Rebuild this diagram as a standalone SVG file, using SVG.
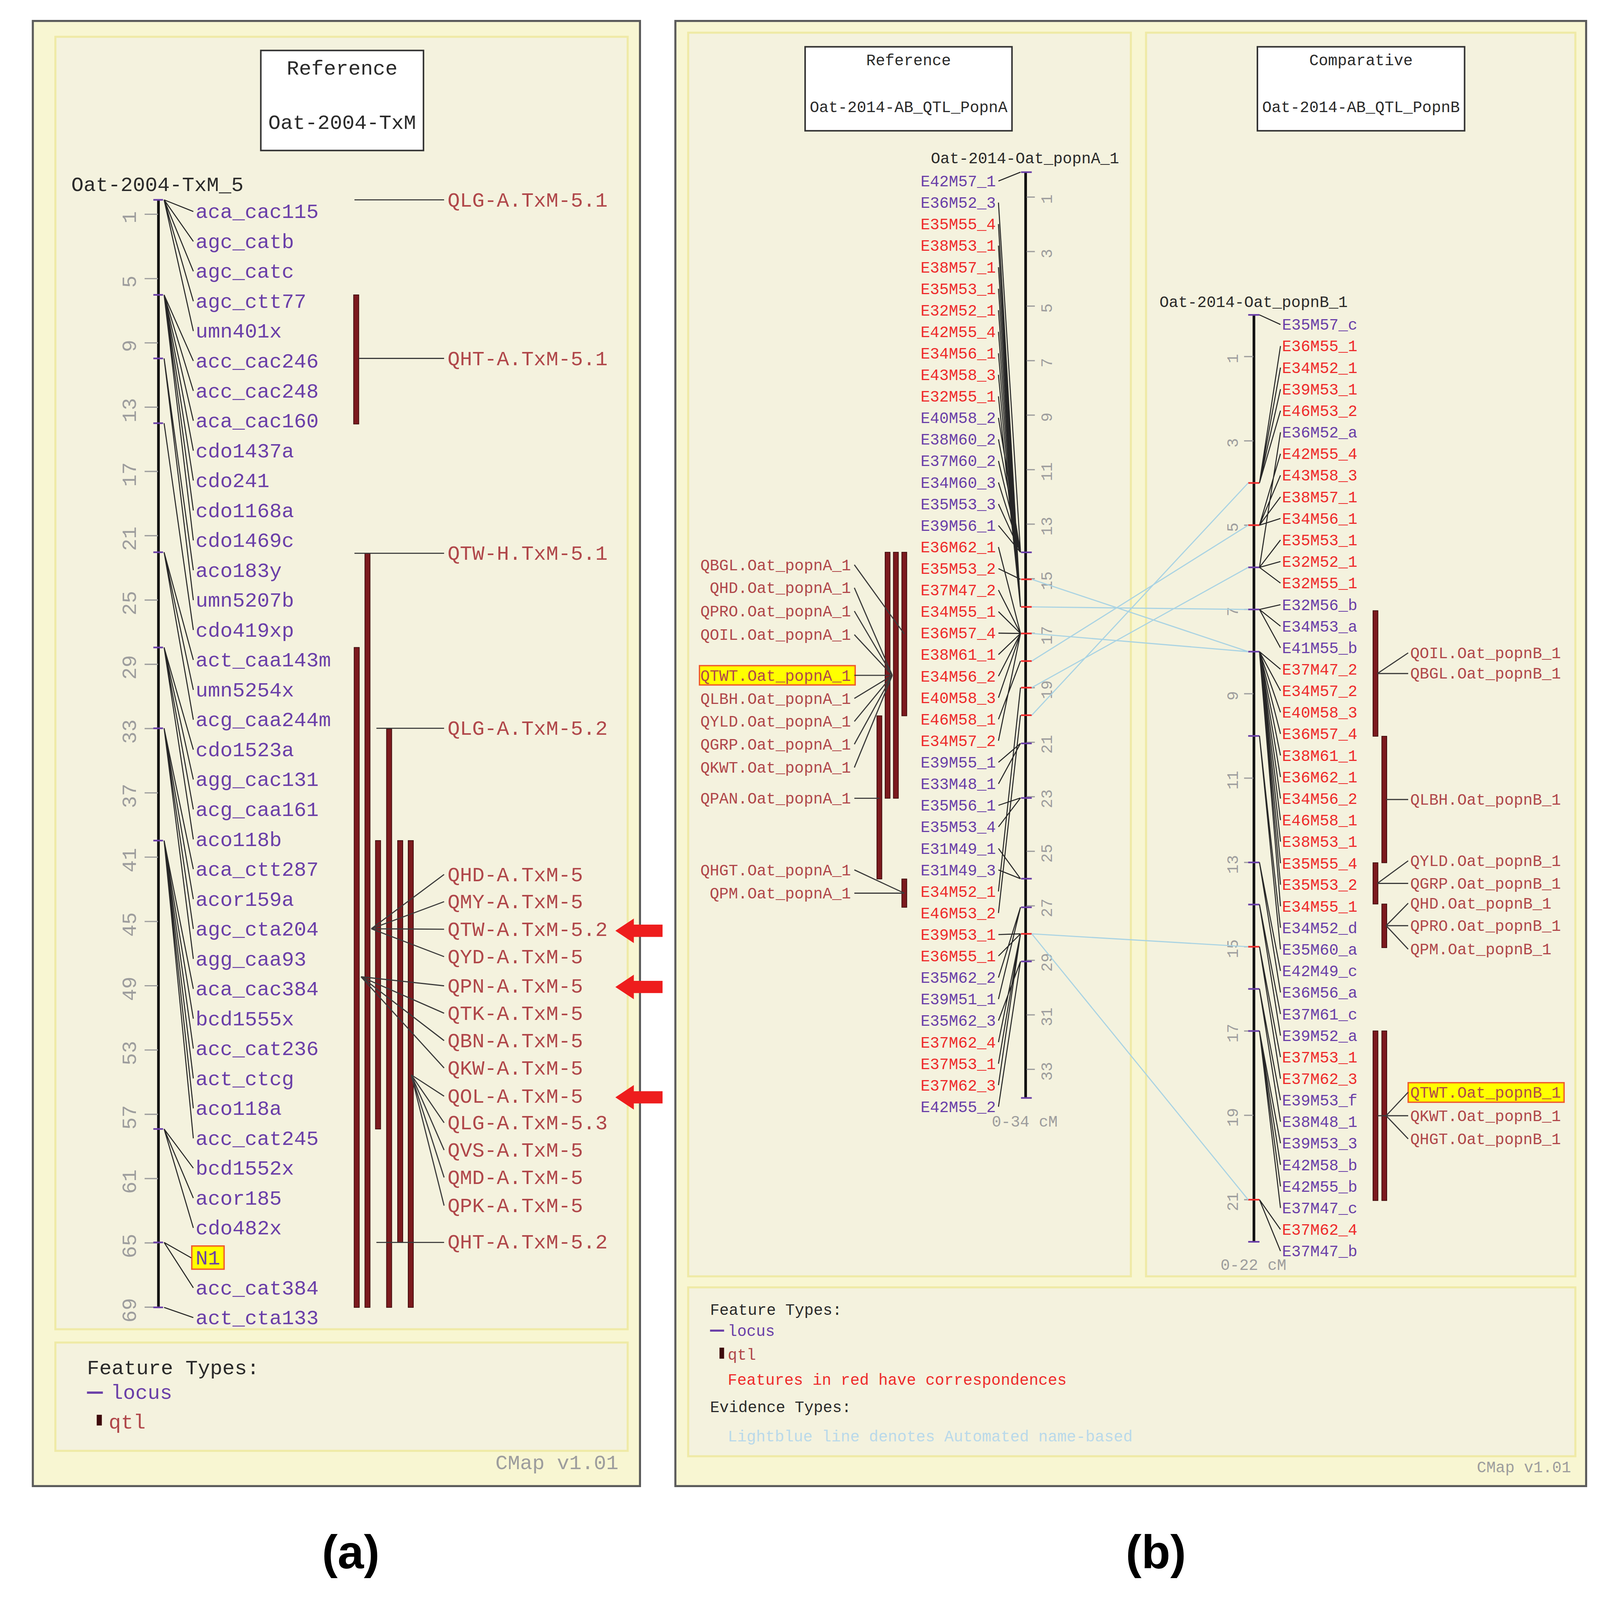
<svg xmlns="http://www.w3.org/2000/svg" width="4288" height="4304" viewBox="0 0 4288 4304">
<style>
text{font-family:"Liberation Mono","DejaVu Sans Mono",monospace}
.s20{font-size:20px}
.s15{font-size:15.3px}
.pu{fill:#6a3fa8}
.rd{fill:#ee2b2b}
.qt{fill:#b0474a}
.dk{fill:#2a2a2a}
.gy{fill:#9d9d9d}
.lb{fill:#b9d9ea}
.ld{stroke:#262626;stroke-width:1;fill:none}
.ql{stroke:#3a3a3a;stroke-width:1.1;fill:none}
.co{stroke:#a9d3e3;stroke-width:1.1;fill:none}
.bar{fill:#7c1a1e;stroke:#3e0b0c;stroke-width:0.7}
.tk{stroke:#9d9d9d;stroke-width:1.2}
.chr{stroke:#111;stroke-width:2.6}
.fp{stroke:#6a3fa8;stroke-width:1.6}
.fr{stroke:#ee2b2b;stroke-width:1.6}
.pnl{fill:#f4f2de;stroke:#efeaa6;stroke-width:2}
.frm{fill:#f8f6d2;stroke:#5a5a5a;stroke-width:2}
.box{fill:#ffffff;stroke:#333;stroke-width:1.5}
.hl{fill:#ffff00;stroke:#f0582a;stroke-width:1.3}
.arr{fill:#ee1d1d}
.cap{font-family:"Liberation Sans","Open Sans",sans-serif;font-weight:bold;font-size:46px;fill:#000}
</style>
<rect width="4288" height="4304" fill="#ffffff"/>
<g transform="scale(2.6256,2.6156)">

<!-- ========== PANEL A ========== -->
<g id="panel-a">
<rect class="frm" x="32" y="20.5" width="592" height="1434"/>
<rect class="pnl" x="54" y="36" width="558" height="1265"/>
<rect class="pnl" x="54" y="1314" width="558" height="106"/>
<g id="title-a">
<rect class="box" x="254.3" y="49.4" width="158.6" height="97.9"/>
<text class="s20 dk" x="333.6" y="73" text-anchor="middle">Reference</text>
<text class="s20 dk" x="333.6" y="126" text-anchor="middle">Oat-2004-TxM</text>
</g>
<text class="s20 dk" x="69.5" y="187">Oat-2004-TxM_5</text>
<text class="s20 gy" x="483" y="1438">CMap v1.01</text>
</g>

<g id="map-a-chromosome">
<line class="chr" x1="154.5" y1="195.6" x2="154.5" y2="1279.6"/>
<g class="tk">
<line x1="141" y1="209.7" x2="154" y2="209.7"/><line x1="141" y1="272.7" x2="154" y2="272.7"/>
<line x1="141" y1="335.6" x2="154" y2="335.6"/><line x1="141" y1="398.5" x2="154" y2="398.5"/>
<line x1="141" y1="461.4" x2="154" y2="461.4"/><line x1="141" y1="524.3" x2="154" y2="524.3"/>
<line x1="141" y1="587.3" x2="154" y2="587.3"/><line x1="141" y1="650.2" x2="154" y2="650.2"/>
<line x1="141" y1="713.1" x2="154" y2="713.1"/><line x1="141" y1="776" x2="154" y2="776"/>
<line x1="141" y1="838.9" x2="154" y2="838.9"/><line x1="141" y1="901.9" x2="154" y2="901.9"/>
<line x1="141" y1="964.8" x2="154" y2="964.8"/><line x1="141" y1="1027.7" x2="154" y2="1027.7"/>
<line x1="141" y1="1090.6" x2="154" y2="1090.6"/><line x1="141" y1="1153.5" x2="154" y2="1153.5"/>
<line x1="141" y1="1216.5" x2="154" y2="1216.5"/><line x1="141" y1="1279.4" x2="154" y2="1279.4"/>
</g>
<g class="s20 gy" text-anchor="middle">
<text transform="translate(132.5,212.7) rotate(-90)">1</text>
<text transform="translate(132.5,275.7) rotate(-90)">5</text>
<text transform="translate(132.5,338.6) rotate(-90)">9</text>
<text transform="translate(132.5,401.5) rotate(-90)">13</text>
<text transform="translate(132.5,464.4) rotate(-90)">17</text>
<text transform="translate(132.5,527.3) rotate(-90)">21</text>
<text transform="translate(132.5,590.3) rotate(-90)">25</text>
<text transform="translate(132.5,653.2) rotate(-90)">29</text>
<text transform="translate(132.5,716.1) rotate(-90)">33</text>
<text transform="translate(132.5,779) rotate(-90)">37</text>
<text transform="translate(132.5,841.9) rotate(-90)">41</text>
<text transform="translate(132.5,904.9) rotate(-90)">45</text>
<text transform="translate(132.5,967.8) rotate(-90)">49</text>
<text transform="translate(132.5,1030.7) rotate(-90)">53</text>
<text transform="translate(132.5,1093.6) rotate(-90)">57</text>
<text transform="translate(132.5,1156.5) rotate(-90)">61</text>
<text transform="translate(132.5,1219.5) rotate(-90)">65</text>
<text transform="translate(132.5,1282.4) rotate(-90)">69</text>
</g>
<g class="fp">
<line x1="149.5" y1="195.6" x2="159" y2="195.6"/><line x1="149.5" y1="288.6" x2="159" y2="288.6"/>
<line x1="149.5" y1="350.8" x2="159" y2="350.8"/><line x1="149.5" y1="414.2" x2="159" y2="414.2"/>
<line x1="149.5" y1="540.5" x2="159" y2="540.5"/><line x1="149.5" y1="633.7" x2="159" y2="633.7"/>
<line x1="149.5" y1="712.8" x2="159" y2="712.8"/><line x1="149.5" y1="822.7" x2="159" y2="822.7"/>
<line x1="149.5" y1="1105" x2="159" y2="1105"/><line x1="149.5" y1="1216" x2="159" y2="1216"/>
<line x1="149.5" y1="1279.6" x2="159" y2="1279.6"/>
</g>
</g>

<g id="map-a-markers" class="s20 pu">
<text x="190.7" y="213.5">aca_cac115</text>
<text x="190.7" y="242.8">agc_catb</text>
<text x="190.7" y="272">agc_catc</text>
<text x="190.7" y="301.3">agc_ctt77</text>
<text x="190.7" y="330.5">umn401x</text>
<text x="190.7" y="359.8">acc_cac246</text>
<text x="190.7" y="389.1">acc_cac248</text>
<text x="190.7" y="418.3">aca_cac160</text>
<text x="190.7" y="447.6">cdo1437a</text>
<text x="190.7" y="476.8">cdo241</text>
<text x="190.7" y="506.1">cdo1168a</text>
<text x="190.7" y="535.4">cdo1469c</text>
<text x="190.7" y="564.6">aco183y</text>
<text x="190.7" y="593.9">umn5207b</text>
<text x="190.7" y="623.1">cdo419xp</text>
<text x="190.7" y="652.4">act_caa143m</text>
<text x="190.7" y="681.7">umn5254x</text>
<text x="190.7" y="710.9">acg_caa244m</text>
<text x="190.7" y="740.2">cdo1523a</text>
<text x="190.7" y="769.4">agg_cac131</text>
<text x="190.7" y="798.7">acg_caa161</text>
<text x="190.7" y="828">aco118b</text>
<text x="190.7" y="857.2">aca_ctt287</text>
<text x="190.7" y="886.5">acor159a</text>
<text x="190.7" y="915.7">agc_cta204</text>
<text x="190.7" y="945">agg_caa93</text>
<text x="190.7" y="974.3">aca_cac384</text>
<text x="190.7" y="1003.5">bcd1555x</text>
<text x="190.7" y="1032.8">acc_cat236</text>
<text x="190.7" y="1062">act_ctcg</text>
<text x="190.7" y="1091.3">aco118a</text>
<text x="190.7" y="1120.6">acc_cat245</text>
<text x="190.7" y="1149.8">bcd1552x</text>
<text x="190.7" y="1179.1">acor185</text>
<text x="190.7" y="1208.3">cdo482x</text>
<g id="n1-node"><rect class="hl" x="187" y="1219.5" width="31.5" height="22.7"/>
<text x="190.7" y="1237.6">N1</text></g>
<text x="190.7" y="1266.9">acc_cat384</text>
<text x="190.7" y="1296.1">act_cta133</text>
</g>

<g id="map-a-qtl-bars" class="bar">
<rect x="344.8" y="288.6" width="5" height="126.4"/>
<rect x="355.8" y="541.5" width="5" height="738.1"/>
<rect x="345.3" y="633.7" width="5" height="645.9"/>
<rect x="376.9" y="713.5" width="5" height="566.1"/>
<rect x="366.1" y="822.7" width="5" height="282.3"/>
<rect x="387.7" y="822.7" width="5" height="393.3"/>
<rect x="398" y="822.7" width="5" height="456.9"/>
</g>

<g id="map-a-qtl-labels" class="s20 qt">
<text x="436.4" y="202.1">QLG-A.TxM-5.1</text>
<text x="436.4" y="357.3">QHT-A.TxM-5.1</text>
<text x="436.4" y="548">QTW-H.TxM-5.1</text>
<text x="436.4" y="719.3">QLG-A.TxM-5.2</text>
<text x="436.4" y="862.4">QHD-A.TxM-5</text>
<text x="436.4" y="889">QMY-A.TxM-5</text>
<text x="436.4" y="916">QTW-A.TxM-5.2</text>
<text x="436.4" y="942.8">QYD-A.TxM-5</text>
<text x="436.4" y="971.4">QPN-A.TxM-5</text>
<text x="436.4" y="998.2">QTK-A.TxM-5</text>
<text x="436.4" y="1025">QBN-A.TxM-5</text>
<text x="436.4" y="1051.8">QKW-A.TxM-5</text>
<text x="436.4" y="1079.4">QOL-A.TxM-5</text>
<text x="436.4" y="1105.4">QLG-A.TxM-5.3</text>
<text x="436.4" y="1132.1">QVS-A.TxM-5</text>
<text x="436.4" y="1158.9">QMD-A.TxM-5</text>
<text x="436.4" y="1186.5">QPK-A.TxM-5</text>
<text x="436.4" y="1222">QHT-A.TxM-5.2</text>
</g>

<g id="red-arrows" class="arr">
<polygon points="600,911 618,899 618,905 646,905 646,917 618,917 618,923"/>
<polygon points="600,966 618,954 618,960 646,960 646,972 618,972 618,978"/>
<polygon points="600,1074 618,1062 618,1068 646,1068 646,1080 618,1080 618,1086"/>
</g>

<g id="legend-a">
<text class="s20 dk" x="84.8" y="1345">Feature Types:</text>
<line x1="84.8" y1="1363" x2="100.3" y2="1363" stroke="#6a3fa8" stroke-width="2.2"/>
<text class="s20 pu" x="108" y="1369">locus</text>
<rect x="94.3" y="1384.7" width="5" height="10.5" fill="#3e0b0c"/>
<text class="s20 qt" x="106" y="1398">qtl</text>
</g>

<!-- ========== PANEL B ========== -->
<g id="panel-b">
<rect class="frm" x="658.5" y="20.5" width="888" height="1434"/>
<rect class="pnl" x="671" y="32" width="431.6" height="1217.2"/>
<rect class="pnl" x="1117.4" y="32" width="418.6" height="1217.2"/>
<rect class="pnl" x="671" y="1260" width="865" height="165.3"/>
<g id="title-b-ref">
<rect class="box" x="785" y="45.8" width="201.7" height="82.2"/>
<text class="s15 dk" x="885.9" y="64" text-anchor="middle">Reference</text>
<text class="s15 dk" x="885.9" y="109.8" text-anchor="middle">Oat-2014-AB_QTL_PopnA</text>
</g>
<g id="title-b-comp">
<rect class="box" x="1226" y="45.8" width="202" height="82.2"/>
<text class="s15 dk" x="1327" y="64" text-anchor="middle">Comparative</text>
<text class="s15 dk" x="1327" y="109.8" text-anchor="middle">Oat-2014-AB_QTL_PopnB</text>
</g>
<text class="s15 dk" x="907.6" y="159.7">Oat-2014-Oat_popnA_1</text>
<text class="s15 dk" x="1130.5" y="300.4">Oat-2014-Oat_popnB_1</text>
<text class="s15 gy" x="967" y="1102.6">0-34 cM</text>
<text class="s15 gy" x="1190" y="1243">0-22 cM</text>
<text class="s15 gy" x="1440" y="1441">CMap v1.01</text>
</g>

<g id="map-b-ref-chromosome">
<line class="chr" x1="1000" y1="168.5" x2="1000" y2="1074.6"/>
<g class="tk">
<line x1="1001" y1="192.9" x2="1009" y2="192.9"/><line x1="1001" y1="246.2" x2="1009" y2="246.2"/>
<line x1="1001" y1="299.6" x2="1009" y2="299.6"/><line x1="1001" y1="353" x2="1009" y2="353"/>
<line x1="1001" y1="406.3" x2="1009" y2="406.3"/><line x1="1001" y1="459.7" x2="1009" y2="459.7"/>
<line x1="1001" y1="513" x2="1009" y2="513"/><line x1="1001" y1="566.4" x2="1009" y2="566.4"/>
<line x1="1001" y1="619.8" x2="1009" y2="619.8"/><line x1="1001" y1="673.1" x2="1009" y2="673.1"/>
<line x1="1001" y1="726.5" x2="1009" y2="726.5"/><line x1="1001" y1="779.8" x2="1009" y2="779.8"/>
<line x1="1001" y1="833.2" x2="1009" y2="833.2"/><line x1="1001" y1="886.6" x2="1009" y2="886.6"/>
<line x1="1001" y1="939.9" x2="1009" y2="939.9"/><line x1="1001" y1="993.3" x2="1009" y2="993.3"/>
<line x1="1001" y1="1046.6" x2="1009" y2="1046.6"/>
</g>
<g class="s15 gy" text-anchor="middle">
<text transform="translate(1025.8,194.9) rotate(-90)">1</text>
<text transform="translate(1025.8,248.2) rotate(-90)">3</text>
<text transform="translate(1025.8,301.6) rotate(-90)">5</text>
<text transform="translate(1025.8,355) rotate(-90)">7</text>
<text transform="translate(1025.8,408.3) rotate(-90)">9</text>
<text transform="translate(1025.8,461.7) rotate(-90)">11</text>
<text transform="translate(1025.8,515) rotate(-90)">13</text>
<text transform="translate(1025.8,568.4) rotate(-90)">15</text>
<text transform="translate(1025.8,621.8) rotate(-90)">17</text>
<text transform="translate(1025.8,675.1) rotate(-90)">19</text>
<text transform="translate(1025.8,728.5) rotate(-90)">21</text>
<text transform="translate(1025.8,781.8) rotate(-90)">23</text>
<text transform="translate(1025.8,835.2) rotate(-90)">25</text>
<text transform="translate(1025.8,888.6) rotate(-90)">27</text>
<text transform="translate(1025.8,941.9) rotate(-90)">29</text>
<text transform="translate(1025.8,995.3) rotate(-90)">31</text>
<text transform="translate(1025.8,1048.6) rotate(-90)">33</text>
</g>
<g class="fp">
<line x1="995.5" y1="168.5" x2="1006" y2="168.5"/><line x1="995.5" y1="540.6" x2="1006" y2="540.6"/>
<line x1="995.5" y1="727.6" x2="1006" y2="727.6"/><line x1="995.5" y1="781" x2="1006" y2="781"/>
<line x1="995.5" y1="860" x2="1006" y2="860"/><line x1="995.5" y1="888" x2="1006" y2="888"/>
<line x1="995.5" y1="941" x2="1006" y2="941"/><line x1="995.5" y1="1074.6" x2="1006" y2="1074.6"/>
</g>
<g class="fr">
<line x1="995.5" y1="567" x2="1006" y2="567"/><line x1="995.5" y1="594" x2="1006" y2="594"/>
<line x1="995.5" y1="620" x2="1006" y2="620"/><line x1="995.5" y1="647" x2="1006" y2="647"/>
<line x1="995.5" y1="673" x2="1006" y2="673"/><line x1="995.5" y1="700" x2="1006" y2="700"/>
<line x1="995.5" y1="914" x2="1006" y2="914"/>
</g>
</g>

<g id="map-b-ref-markers" class="s15" text-anchor="end">
<text class="pu" x="971" y="182.4">E42M57_1</text>
<text class="pu" x="971" y="203.5">E36M52_3</text>
<text class="rd" x="971" y="224.5">E35M55_4</text>
<text class="rd" x="971" y="245.6">E38M53_1</text>
<text class="rd" x="971" y="266.7">E38M57_1</text>
<text class="rd" x="971" y="287.8">E35M53_1</text>
<text class="rd" x="971" y="308.8">E32M52_1</text>
<text class="rd" x="971" y="329.9">E42M55_4</text>
<text class="rd" x="971" y="351">E34M56_1</text>
<text class="rd" x="971" y="372">E43M58_3</text>
<text class="rd" x="971" y="393.1">E32M55_1</text>
<text class="pu" x="971" y="414.2">E40M58_2</text>
<text class="pu" x="971" y="435.2">E38M60_2</text>
<text class="pu" x="971" y="456.3">E37M60_2</text>
<text class="pu" x="971" y="477.4">E34M60_3</text>
<text class="pu" x="971" y="498.5">E35M53_3</text>
<text class="pu" x="971" y="519.5">E39M56_1</text>
<text class="rd" x="971" y="540.6">E36M62_1</text>
<text class="rd" x="971" y="561.7">E35M53_2</text>
<text class="rd" x="971" y="582.7">E37M47_2</text>
<text class="rd" x="971" y="603.8">E34M55_1</text>
<text class="rd" x="971" y="624.9">E36M57_4</text>
<text class="rd" x="971" y="645.9">E38M61_1</text>
<text class="rd" x="971" y="667">E34M56_2</text>
<text class="rd" x="971" y="688.1">E40M58_3</text>
<text class="rd" x="971" y="709.2">E46M58_1</text>
<text class="rd" x="971" y="730.2">E34M57_2</text>
<text class="pu" x="971" y="751.3">E39M55_1</text>
<text class="pu" x="971" y="772.4">E33M48_1</text>
<text class="pu" x="971" y="793.4">E35M56_1</text>
<text class="pu" x="971" y="814.5">E35M53_4</text>
<text class="pu" x="971" y="835.6">E31M49_1</text>
<text class="pu" x="971" y="856.6">E31M49_3</text>
<text class="rd" x="971" y="877.7">E34M52_1</text>
<text class="rd" x="971" y="898.8">E46M53_2</text>
<text class="rd" x="971" y="919.9">E39M53_1</text>
<text class="rd" x="971" y="940.9">E36M55_1</text>
<text class="pu" x="971" y="962">E35M62_2</text>
<text class="pu" x="971" y="983.1">E39M51_1</text>
<text class="pu" x="971" y="1004.1">E35M62_3</text>
<text class="rd" x="971" y="1025.2">E37M62_4</text>
<text class="rd" x="971" y="1046.3">E37M53_1</text>
<text class="rd" x="971" y="1067.3">E37M62_3</text>
<text class="pu" x="971" y="1088.4">E42M55_2</text>
</g>

<g id="map-b-ref-qtl">
<g class="bar">
<rect x="863" y="540.5" width="4.8" height="240.8"/>
<rect x="871.1" y="540.5" width="4.8" height="240.8"/>
<rect x="879.3" y="540.5" width="4.8" height="160.1"/>
<rect x="855" y="700.6" width="4.8" height="159.7"/>
<rect x="879.3" y="860.3" width="4.8" height="27.7"/>
</g>
<rect class="hl" x="682" y="651.5" width="151.8" height="18.9"/>
<g class="s15 qt" text-anchor="end">
<text x="829.7" y="558">QBGL.Oat_popnA_1</text>
<text x="829.7" y="580.5">QHD.Oat_popnA_1</text>
<text x="829.7" y="603.3">QPRO.Oat_popnA_1</text>
<text x="829.7" y="626.4">QOIL.Oat_popnA_1</text>
<text x="829.7" y="666.2">QTWT.Oat_popnA_1</text>
<text x="829.7" y="688.8">QLBH.Oat_popnA_1</text>
<text x="829.7" y="711.3">QYLD.Oat_popnA_1</text>
<text x="829.7" y="733.6">QGRP.Oat_popnA_1</text>
<text x="829.7" y="756.4">QKWT.Oat_popnA_1</text>
<text x="829.7" y="786.5">QPAN.Oat_popnA_1</text>
<text x="829.7" y="856.6">QHGT.Oat_popnA_1</text>
<text x="829.7" y="879.4">QPM.Oat_popnA_1</text>
</g>
</g>

<g id="map-b-comp-chromosome">
<line class="chr" x1="1222.6" y1="308.2" x2="1222.6" y2="1215.4"/>
<g class="tk">
<line x1="1213" y1="349" x2="1222" y2="349"/><line x1="1213" y1="431.5" x2="1222" y2="431.5"/>
<line x1="1213" y1="514" x2="1222" y2="514"/><line x1="1213" y1="596.5" x2="1222" y2="596.5"/>
<line x1="1213" y1="679" x2="1222" y2="679"/><line x1="1213" y1="761.6" x2="1222" y2="761.6"/>
<line x1="1213" y1="844.1" x2="1222" y2="844.1"/><line x1="1213" y1="926.6" x2="1222" y2="926.6"/>
<line x1="1213" y1="1009.1" x2="1222" y2="1009.1"/><line x1="1213" y1="1091.6" x2="1222" y2="1091.6"/>
<line x1="1213" y1="1174.2" x2="1222" y2="1174.2"/>
</g>
<g class="s15 gy" text-anchor="middle">
<text transform="translate(1206.9,351) rotate(-90)">1</text>
<text transform="translate(1206.9,433.5) rotate(-90)">3</text>
<text transform="translate(1206.9,516) rotate(-90)">5</text>
<text transform="translate(1206.9,598.5) rotate(-90)">7</text>
<text transform="translate(1206.9,681) rotate(-90)">9</text>
<text transform="translate(1206.9,763.6) rotate(-90)">11</text>
<text transform="translate(1206.9,846.1) rotate(-90)">13</text>
<text transform="translate(1206.9,928.6) rotate(-90)">15</text>
<text transform="translate(1206.9,1011.1) rotate(-90)">17</text>
<text transform="translate(1206.9,1093.6) rotate(-90)">19</text>
<text transform="translate(1206.9,1176.2) rotate(-90)">21</text>
</g>
<g class="fp">
<line x1="1217" y1="308.2" x2="1228" y2="308.2"/><line x1="1217" y1="555.3" x2="1228" y2="555.3"/>
<line x1="1217" y1="596.5" x2="1228" y2="596.5"/><line x1="1217" y1="637.8" x2="1228" y2="637.8"/>
<line x1="1217" y1="720.3" x2="1228" y2="720.3"/><line x1="1217" y1="844.1" x2="1228" y2="844.1"/>
<line x1="1217" y1="885.3" x2="1228" y2="885.3"/><line x1="1217" y1="967.9" x2="1228" y2="967.9"/>
<line x1="1217" y1="1009.1" x2="1228" y2="1009.1"/><line x1="1217" y1="1215.4" x2="1228" y2="1215.4"/>
</g>
<g class="fr">
<line x1="1217" y1="472.7" x2="1228" y2="472.7"/><line x1="1217" y1="514" x2="1228" y2="514"/>
<line x1="1217" y1="926.6" x2="1228" y2="926.6"/><line x1="1217" y1="1174.2" x2="1228" y2="1174.2"/>
</g>
</g>

<g id="map-b-comp-markers" class="s15">
<text class="pu" x="1250" y="322.8">E35M57_c</text>
<text class="rd" x="1250" y="343.9">E36M55_1</text>
<text class="rd" x="1250" y="365">E34M52_1</text>
<text class="rd" x="1250" y="386.1">E39M53_1</text>
<text class="rd" x="1250" y="407.2">E46M53_2</text>
<text class="pu" x="1250" y="428.3">E36M52_a</text>
<text class="rd" x="1250" y="449.3">E42M55_4</text>
<text class="rd" x="1250" y="470.4">E43M58_3</text>
<text class="rd" x="1250" y="491.5">E38M57_1</text>
<text class="rd" x="1250" y="512.6">E34M56_1</text>
<text class="rd" x="1250" y="533.7">E35M53_1</text>
<text class="rd" x="1250" y="554.8">E32M52_1</text>
<text class="rd" x="1250" y="575.9">E32M55_1</text>
<text class="pu" x="1250" y="597">E32M56_b</text>
<text class="pu" x="1250" y="618.1">E34M53_a</text>
<text class="pu" x="1250" y="639.2">E41M55_b</text>
<text class="rd" x="1250" y="660.2">E37M47_2</text>
<text class="rd" x="1250" y="681.3">E34M57_2</text>
<text class="rd" x="1250" y="702.4">E40M58_3</text>
<text class="rd" x="1250" y="723.5">E36M57_4</text>
<text class="rd" x="1250" y="744.6">E38M61_1</text>
<text class="rd" x="1250" y="765.7">E36M62_1</text>
<text class="rd" x="1250" y="786.8">E34M56_2</text>
<text class="rd" x="1250" y="807.9">E46M58_1</text>
<text class="rd" x="1250" y="829">E38M53_1</text>
<text class="rd" x="1250" y="850.1">E35M55_4</text>
<text class="rd" x="1250" y="871.1">E35M53_2</text>
<text class="rd" x="1250" y="892.2">E34M55_1</text>
<text class="pu" x="1250" y="913.3">E34M52_d</text>
<text class="pu" x="1250" y="934.4">E35M60_a</text>
<text class="pu" x="1250" y="955.5">E42M49_c</text>
<text class="pu" x="1250" y="976.6">E36M56_a</text>
<text class="pu" x="1250" y="997.7">E37M61_c</text>
<text class="pu" x="1250" y="1018.8">E39M52_a</text>
<text class="rd" x="1250" y="1039.9">E37M53_1</text>
<text class="rd" x="1250" y="1061">E37M62_3</text>
<text class="pu" x="1250" y="1082">E39M53_f</text>
<text class="pu" x="1250" y="1103.1">E38M48_1</text>
<text class="pu" x="1250" y="1124.2">E39M53_3</text>
<text class="pu" x="1250" y="1145.3">E42M58_b</text>
<text class="pu" x="1250" y="1166.4">E42M55_b</text>
<text class="pu" x="1250" y="1187.5">E37M47_c</text>
<text class="rd" x="1250" y="1208.6">E37M62_4</text>
<text class="pu" x="1250" y="1229.7">E37M47_b</text>
</g>

<g id="map-b-comp-qtl">
<g class="bar">
<rect x="1338.7" y="597.7" width="4.8" height="122.9"/>
<rect x="1347.3" y="720.6" width="4.8" height="123.8"/>
<rect x="1338.7" y="844.4" width="4.8" height="40.4"/>
<rect x="1347.3" y="884.8" width="4.8" height="42.7"/>
<rect x="1338.7" y="1009" width="4.8" height="166"/>
<rect x="1347.3" y="1009" width="4.8" height="166"/>
</g>
<rect class="hl" x="1373" y="1059.7" width="152" height="19.1"/>
<g class="s15 qt">
<text x="1375" y="644.2">QOIL.Oat_popnB_1</text>
<text x="1375" y="664">QBGL.Oat_popnB_1</text>
<text x="1375" y="787.6">QLBH.Oat_popnB_1</text>
<text x="1375" y="847.7">QYLD.Oat_popnB_1</text>
<text x="1375" y="869.9">QGRP.Oat_popnB_1</text>
<text x="1375" y="889.2">QHD.Oat_popnB_1</text>
<text x="1375" y="911.2">QPRO.Oat_popnB_1</text>
<text x="1375" y="934.2">QPM.Oat_popnB_1</text>
<text x="1375" y="1074.2">QTWT.Oat_popnB_1</text>
<text x="1375" y="1097.2">QKWT.Oat_popnB_1</text>
<text x="1375" y="1119.9">QHGT.Oat_popnB_1</text>
</g>
</g>

<g id="legend-b">
<text class="s15 dk" x="692.3" y="1287">Feature Types:</text>
<line x1="692.3" y1="1302.3" x2="706" y2="1302.3" stroke="#6a3fa8" stroke-width="2"/>
<text class="s15 pu" x="709.6" y="1307.5">locus</text>
<rect x="701.5" y="1319" width="4.5" height="10.8" fill="#3e0b0c"/>
<text class="s15 qt" x="709.6" y="1331">qtl</text>
<text class="s15 rd" x="709.6" y="1355.2">Features in red have correspondences</text>
<text class="s15 dk" x="692.3" y="1382.2">Evidence Types:</text>
<text class="s15 lb" x="709.6" y="1410.8">Lightblue line denotes Automated name-based</text>
</g>

<!-- ========== CONNECTORS ========== -->
<g id="connectors">
<path class="ld" d="M160 195.6L188.5 207M160 195.6L188.5 236.3M160 195.6L188.5 265.5M160 195.6L188.5 294.8M160 195.6L188.5 324
M160 288.6L188.5 353.3M160 288.6L188.5 382.6M160 288.6L188.5 411.8M160 288.6L188.5 441.1M160 288.6L188.5 470.3M160 288.6L188.5 499.6M160 288.6L188.5 528.9
M160 350.8L188.5 558.1M160 350.8L188.5 587.4M160 414.2L188.5 616.6
M160 540.5L188.5 645.9M160 540.5L188.5 675.2M160 540.5L188.5 704.4
M160 633.7L188.5 733.7M160 633.7L188.5 762.9M160 633.7L188.5 792.2M160 633.7L188.5 821.5
M160 712.8L188.5 850.7M160 712.8L188.5 880M160 712.8L188.5 909.2M160 712.8L188.5 938.5
M160 822.7L188.5 967.8M160 822.7L188.5 997M160 822.7L188.5 1026.3M160 822.7L188.5 1055.5M160 822.7L188.5 1084.8M160 822.7L188.5 1114.1
M160 1105L188.5 1143.3M160 1105L188.5 1172.6M160 1105L188.5 1201.8
M160 1216L186.5 1231.1M160 1216L188.5 1260.4M160 1279.6L188.5 1289.6"/>
<path class="ql" d="M345.6 195.6H433M349.7 350.8H433M345.6 541.5H433M367 712.8H433
M362 909L433 855.9M362 909L433 882.5M362 909L433 909.5M362 909L433 936.3
M352 956L433 964.9M352 956L433 991.7M352 956L433 1018.5M352 956L433 1045.3
M401 1052L433 1072.9M401 1052L433 1098.9M401 1052L433 1125.6M401 1052L433 1152.4M401 1052L433 1180
M367 1216H433"/>
<path class="ld" d="M973.5 177.2L995 168.5M973.5 198.3L995 540.6
M973.5 219.3L995 594M973.5 240.4L995 594M973.5 261.5L995 594M973.5 282.6L995 594M973.5 303.6L995 594M973.5 324.7L995 594M973.5 345.8L995 594M973.5 366.8L995 594M973.5 387.9L995 594
M973.5 409L995 540.6M973.5 430L995 540.6M973.5 451.1L995 540.6M973.5 472.2L995 540.6M973.5 493.3L995 540.6M973.5 514.3L995 540.6
M973.5 535.4L995 620M973.5 556.5L995 567M973.5 577.5L995 620M973.5 598.6L995 620M973.5 619.7L995 620M973.5 640.7L995 620M973.5 661.8L995 620M973.5 682.9L995 620
M973.5 704L995 647M973.5 725L995 620M973.5 746.1L995 727.6M973.5 767.2L995 727.6M973.5 788.2L995 781M973.5 809.3L995 781
M973.5 830.4L995 860M973.5 851.4L995 860M973.5 872.5L995 673M973.5 893.6L995 700
M973.5 914.7L995 914M973.5 935.7L995 914M973.5 956.8L995 888M973.5 977.9L995 888M973.5 998.9L995 941
M973.5 1020L995 914M973.5 1041.1L995 914M973.5 1062.1L995 914M973.5 1083.2L995 941"/>
<path class="ld" d="M1228 308.2L1248.5 317.6M1228 472.7L1248.5 338.7M1228 472.7L1248.5 359.8M1228 472.7L1248.5 380.9M1228 472.7L1248.5 402
M1228 555.3L1248.5 423.1M1228 514L1248.5 444.1M1228 514L1248.5 465.2M1228 514L1248.5 486.3M1228 514L1248.5 507.4
M1228 555.3L1248.5 528.5M1228 555.3L1248.5 549.6M1228 555.3L1248.5 570.7
M1228 596.5L1248.5 591.8M1228 596.5L1248.5 612.9M1228 596.5L1248.5 634
M1228 637.8L1248.5 655M1228 637.8L1248.5 676.1M1228 637.8L1248.5 697.2M1228 637.8L1248.5 718.3M1228 637.8L1248.5 739.4M1228 637.8L1248.5 760.5M1228 637.8L1248.5 781.6M1228 637.8L1248.5 802.7M1228 637.8L1248.5 823.8M1228 637.8L1248.5 844.9M1228 637.8L1248.5 865.9M1228 637.8L1248.5 887
M1228 720.3L1248.5 908.1M1228 720.3L1248.5 929.2M1228 844.1L1248.5 950.3M1228 844.1L1248.5 971.4M1228 885.3L1248.5 992.5M1228 885.3L1248.5 1013.6
M1228 926.6L1248.5 1034.7M1228 926.6L1248.5 1055.8M1228 967.9L1248.5 1076.8M1228 967.9L1248.5 1097.9
M1228 1009.1L1248.5 1119M1228 1009.1L1248.5 1140.1M1228 1009.1L1248.5 1161.2M1228 1009.1L1248.5 1182.3
M1228 1174.2L1248.5 1203.4M1228 1174.2L1248.5 1224.5"/>
<path class="ql" d="M833 552.8L881.7 620.5M833 575.3L870 661M833 598.1L870 661M833 621.2L870 661M833 661H870M833 683.6L870 661M833 706.1L870 661M833 728.4L870 661M833 751.2L870 661
M833 781.3H857.4M833 851.4L881.7 874.2M833 874.2H881.7"/>
<path class="ql" d="M1373 639L1343 659.2M1343 659.2H1373M1351.5 782.5H1373M1373 842.5L1343 864.6M1343 864.6H1373
M1373 884L1351.5 906M1351.5 906H1373M1373 929L1351.5 906M1373 1069L1351.5 1092M1343 1092H1373M1373 1114.7L1351.5 1092"/>
<path class="co" d="M1006 567L1217 637.8M1006 594L1217 596.5M1006 620L1217 637.8M1006 647L1217 514M1006 673L1217 555.3M1006 700L1217 472.7M1006 914L1217 926.6M1006 914L1217 1174.2"/>
</g>

<g id="captions">
<text class="cap" x="342" y="1535" text-anchor="middle">(a)</text>
<text class="cap" x="1127" y="1535" text-anchor="middle">(b)</text>
</g>
</g>
</svg>
